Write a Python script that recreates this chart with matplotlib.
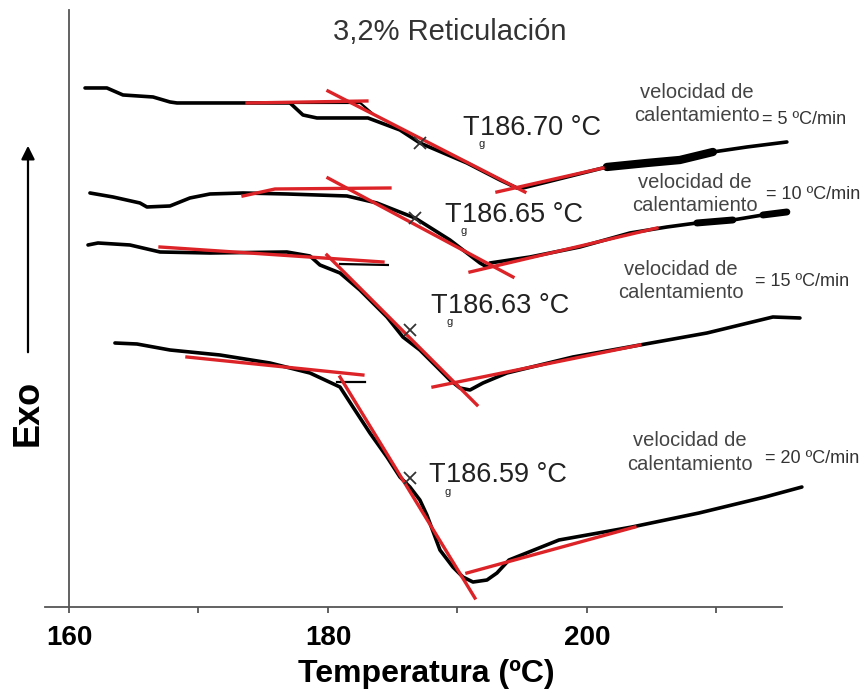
import numpy as np
import matplotlib
matplotlib.use('Agg')
import matplotlib.pyplot as plt

plt.rcParams['font.family'] = ['Liberation Sans', 'DejaVu Sans']

# DSC traces (temperature in C, signal in arbitrary units, exo up)
temp_5 = [161.24, 162.93, 164.17, 166.49, 167.80, 168.34, 173.75, 177.07, 178.07, 179.15,
          183.09, 185.56, 187.10, 190.73, 193.28, 194.59, 195.06, 198.15, 201.54, 204.63,
          207.18, 209.73, 212.36, 215.44]
sig_5 = [51.9, 51.9, 51.2, 51.0, 50.5, 50.4, 50.4, 50.4, 49.2, 48.9,
         48.9, 47.7, 46.4, 44.4, 42.7, 41.9, 41.9, 42.9, 44.0, 44.4,
         44.7, 45.5, 46.0, 46.5]
temp_5b = [177.07, 182.50, 183.40]      # second (thin) trace under the step
sig_5b = [50.4, 50.4, 49.4]

temp_10 = [161.62, 163.40, 165.48, 166.02, 167.80, 169.34, 170.89, 173.44, 176.83, 181.47,
           183.78, 186.72, 189.42, 191.74, 192.28, 192.51, 195.60, 199.46, 203.32, 206.18,
           208.49, 211.27, 213.59, 215.44]
sig_10 = [41.4, 41.0, 40.4, 40.0, 40.1, 40.9, 41.3, 41.4, 41.3, 41.1,
          40.4, 38.9, 36.7, 34.4, 34.0, 34.4, 35.0, 36.0, 37.4, 38.0,
          38.4, 38.7, 39.2, 39.5]

temp_15 = [161.47, 162.24, 164.71, 167.03, 170.89, 176.83, 178.61, 179.38, 180.93, 182.47,
           184.56, 185.79, 187.10, 188.42, 189.42, 190.19, 190.97, 191.97, 193.82, 198.92,
           204.09, 209.27, 214.36, 216.45]
sig_15 = [36.2, 36.4, 36.2, 35.5, 35.4, 35.5, 35.1, 34.2, 33.4, 31.7,
          29.0, 27.0, 25.7, 24.0, 22.7, 21.9, 21.7, 22.4, 23.4, 25.0,
          26.2, 27.4, 29.0, 28.9]
temp_15b = [180.93, 184.63]
sig_15b = [34.3, 34.2]

temp_20 = [163.55, 165.25, 167.80, 171.66, 175.52, 178.61, 180.93, 181.93, 183.24, 184.56,
           185.56, 186.33, 187.10, 187.64, 188.65, 189.65, 190.42, 191.20, 192.28, 193.05,
           193.98, 197.84, 203.47, 208.65, 213.75, 216.60]
sig_20 = [26.4, 26.3, 25.7, 25.2, 24.4, 23.4, 22.0, 20.0, 17.4, 15.0,
          13.0, 12.0, 10.7, 9.2, 5.7, 4.0, 3.0, 2.5, 2.7, 3.4,
          4.7, 6.7, 8.0, 9.4, 11.0, 12.0]
temp_20b = [180.69, 182.86]
sig_20b = [22.5, 22.5]

# red tangent constructions: (x pair, y pair)
tangents_5 = [([173.75, 183.01], [50.4, 50.6]),
              ([180.00, 195.21], [51.6, 41.5]),
              ([193.05, 201.24], [41.5, 43.9])]
tangents_10 = [([173.44, 175.91, 184.79], [41.1, 41.8, 41.9]),
               ([180.00, 194.29], [42.9, 33.0]),
               ([190.97, 205.41], [33.5, 37.9])]
tangents_15 = [([167.03, 184.25], [36.0, 34.5]),
               ([179.92, 191.51], [35.2, 20.2]),
               ([188.11, 204.09], [22.0, 26.2])]
tangents_20 = [([169.11, 182.70], [25.0, 23.2]),
               ([180.93, 191.35], [23.0, 0.9]),
               ([190.73, 203.71], [3.4, 8.0])]

# Tg points and labels
tg_x = [187.10, 186.72, 186.33, 186.33]
tg_y = [46.4, 38.9, 27.7, 12.9]
tg_values = ['186.70 °C', '186.65 °C', '186.63 °C', '186.59 °C']
tg_label_x = [190.35, 188.96, 187.88, 187.72]
tg_label_y = [47.2, 38.5, 29.4, 12.5]

rates = ['= 5 ºC/min', '= 10 ºC/min', '= 15 ºC/min', '= 20 ºC/min']
rate_block_x = [208.49, 208.34, 207.26, 207.95]
rate_block_y = [50.3, 41.3, 32.6, 15.45]
rate_x = [213.55, 213.85, 213.0, 213.75]
rate_y = [48.7, 41.2, 32.5, 14.9]

red = '#dc2327'

fig = plt.figure(figsize=(8.64, 6.97), dpi=100)
ax = fig.add_axes([0.0521, 0.1291, 0.882, 0.8566])

for t, s in [(temp_5, sig_5), (temp_10, sig_10), (temp_15, sig_15), (temp_20, sig_20)]:
    ax.plot(t, s, color='black', lw=2.6, solid_capstyle='round', solid_joinstyle='round', zorder=2)
for t, s in [(temp_5b, sig_5b), (temp_15b, sig_15b), (temp_20b, sig_20b)]:
    ax.plot(t, s, color='black', lw=1.6, zorder=2)

# thicker smeared parts of the traces
t5 = np.array(temp_5)
s5 = np.array(sig_5)
m = (t5 >= 201.5) & (t5 <= 209.8)
ax.plot(t5[m], s5[m], color='black', lw=6, solid_capstyle='round', zorder=2)
t10 = np.array(temp_10)
s10 = np.array(sig_10)
m = (t10 >= 208.4) & (t10 <= 211.3)
ax.plot(t10[m], s10[m], color='black', lw=5, solid_capstyle='round', zorder=2)
m = t10 >= 213.5
ax.plot(t10[m], s10[m], color='black', lw=5, solid_capstyle='round', zorder=2)

for tl in [tangents_5, tangents_10, tangents_15, tangents_20]:
    for xs, ys in tl:
        ax.plot(xs, ys, color=red, lw=2.4, zorder=3)

ax.plot(tg_x, tg_y, 'x', color='#333333', ms=8, mew=1.3, zorder=4)

for i in range(4):
    xy = (tg_label_x[i], tg_label_y[i])
    ax.annotate('T', xy=xy, xytext=(0, 0), textcoords='offset points',
                fontsize=19.5, color='#222222', va='baseline', ha='left')
    ax.annotate('g', xy=xy, xytext=(12, -9), textcoords='offset points',
                fontsize=8, color='#222222', va='baseline', ha='left')
    ax.annotate(tg_values[i], xy=xy, xytext=(13, 0), textcoords='offset points',
                fontsize=19.5, color='#222222', va='baseline', ha='left')
    ax.text(rate_block_x[i], rate_block_y[i], 'velocidad de\ncalentamiento',
            fontsize=14.5, color='#444444', ha='center', va='center',
            multialignment='center', linespacing=1.3)
    ax.text(rate_x[i], rate_y[i], rates[i], fontsize=13, color='#333333',
            ha='left', va='center', clip_on=False)

ax.set_xlim(158.15, 217.0)
ax.set_ylim(0, 59.7)

for side in ['top', 'right']:
    ax.spines[side].set_visible(False)
ax.spines['left'].set_position(('data', 160))
ax.spines['bottom'].set_bounds(158.15, 215.1)
for side in ['left', 'bottom']:
    ax.spines[side].set_color('#555555')
    ax.spines[side].set_linewidth(1.3)

ax.set_yticks([])
ax.set_xticks([160, 180, 200])
ax.set_xticks([170, 190, 210], minor=True)
ax.tick_params(axis='x', which='both', length=4, width=1.3, color='#555555',
               labelsize=20, pad=9)
for lab in ax.get_xticklabels():
    lab.set_fontweight('bold')
ax.set_xlabel('Temperatura (ºC)', fontsize=23, fontweight='bold', labelpad=6)

fig.text(0.521, 0.954, '3,2% Reticulación', fontsize=21, color='#333333',
         ha='center', va='center')
fig.text(0.0324, 0.4075, 'Exo', fontsize=26, fontweight='bold', rotation=90,
         ha='center', va='center')
fig.add_artist(matplotlib.patches.FancyArrowPatch(
    (0.0324, 1 - 355 / 697), (0.0324, 1 - 143 / 697), transform=fig.transFigure,
    arrowstyle='-|>', mutation_scale=20, lw=1.6, color='black'))

fig.savefig('out.png', dpi=100)
